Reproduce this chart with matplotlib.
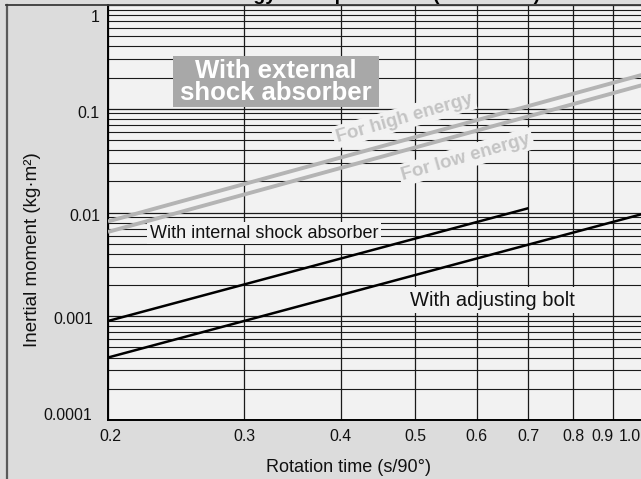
import matplotlib
matplotlib.use("Agg")
import matplotlib.pyplot as plt
from matplotlib.ticker import FixedLocator, LogLocator, NullFormatter, NullLocator
from matplotlib.transforms import ScaledTranslation, blended_transform_factory
from matplotlib.lines import Line2D
from matplotlib.patches import Rectangle

plt.rcParams['font.family'] = ['Liberation Sans', 'DejaVu Sans']

# Allowable inertial moment (kg·m²) at the ends of each straight (log-log) line
internal_t = [0.2, 0.7]
internal_I = [0.0009, 0.011]
bolt_t = [0.2, 1.0]
bolt_I = [0.0004, 0.01]
high_t = [0.2, 1.0]
high_I = [0.0082, 0.22]
low_t = [0.2, 1.0]
low_I = [0.0065, 0.175]

x_ticks = [0.2, 0.3, 0.4, 0.5, 0.6, 0.7, 0.8, 0.9, 1.0]
x_tick_labels = ['0.2', '0.3', '0.4', '0.5', '0.6', '0.7', '0.8', '0.9', '1.0']
y_ticks = [1e-4, 1e-3, 1e-2, 1e-1, 1.0]
y_tick_labels = ['0.0001', '0.001', '0.01', '0.1', '1']

W, H = 641, 479
FIG_BG = '#dcdcdc'
AX_BG = '#f2f2f2'
GRID = '#1a1a1a'

fig = plt.figure(figsize=(W / 100, H / 100), dpi=100, facecolor=FIG_BG)
ax = fig.add_axes([108 / W, 1 - 420 / H, 540 / W, 415 / H], facecolor=AX_BG)


def fpx(x, y):
    """Figure pixel position (from top-left) to figure fraction."""
    return x / W, 1 - y / H


ax.set_xscale('log')
ax.set_yscale('log')
ax.set_xlim(0.2, 1.0)
ax.set_ylim(1e-4, 1.0)

ax.xaxis.set_major_locator(FixedLocator(x_ticks))
ax.xaxis.set_minor_locator(NullLocator())
ax.yaxis.set_major_locator(FixedLocator(y_ticks))
ax.yaxis.set_minor_locator(LogLocator(base=10, subs=range(2, 10)))
ax.xaxis.set_major_formatter(NullFormatter())
ax.yaxis.set_major_formatter(NullFormatter())
ax.yaxis.set_minor_formatter(NullFormatter())
ax.tick_params(which='both', length=0)

ax.set_axisbelow(True)
ax.grid(True, which='major', color=GRID, lw=0.9)
ax.grid(True, which='minor', axis='y', color=GRID, lw=0.8)

for side in ('top', 'right'):
    ax.spines[side].set_visible(False)
for side in ('left', 'bottom'):
    ax.spines[side].set_color('black')
    ax.spines[side].set_linewidth(1.4)

# tick labels, nudged where they crowd or sit at the frame edges
xt = blended_transform_factory(ax.transData, ax.transAxes)
x_shift = {'0.2': 2, '0.9': -10, '1.0': -18}
for v, lab in zip(x_ticks, x_tick_labels):
    off = ScaledTranslation(x_shift.get(lab, 0) / 100, -21 / 100, fig.dpi_scale_trans)
    ax.text(v, 0, lab, transform=xt + off, ha='center', va='baseline',
            fontsize=11.4, color='#111111', clip_on=False)

yt = blended_transform_factory(ax.transAxes, ax.transData)
y_shift = {'1': (-8, -17.5), '0.1': (-8, -9), '0.01': (-8, -8.5),
           '0.001': (-15, -8), '0.0001': (-16, 0)}
for v, lab in zip(y_ticks, y_tick_labels):
    dx, dy = y_shift[lab]
    off = ScaledTranslation(dx / 100, dy / 100, fig.dpi_scale_trans)
    ax.text(0, v, lab, transform=yt + off, ha='right', va='baseline',
            fontsize=11.4, color='#111111', clip_on=False)

fig.text(*fpx(348, 472), 'Rotation time (s/90°)', ha='center', va='baseline',
         fontsize=13, color='#111111')
fig.text(*fpx(33, 250), 'Inertial moment (kg·m²)', ha='center', va='center',
         rotation=90, fontsize=13.5, color='#111111')
fig.text(210 / W, 1.0, 'Energy absorption limit (Reference)', ha='left',
         va='baseline', fontsize=14, fontweight='bold', color='black')

# frame of the panel
fig.add_artist(Line2D([6.7 / W, 6.7 / W], [0, 1 - 5 / H], color='#5a5a5a', lw=1.6))
fig.add_artist(Line2D([6 / W, 1], [1 - 5 / H, 1 - 5 / H], color='#3a3a3a', lw=1.3))

# characteristic lines
ax.plot(high_t, high_I, color='#b4b4b4', lw=2.8, solid_capstyle='butt', zorder=4)
ax.plot(low_t, low_I, color='#b4b4b4', lw=2.8, solid_capstyle='butt', zorder=4)
ax.plot(internal_t, internal_I, color='black', lw=1.8, solid_capstyle='butt', zorder=5)
ax.plot(bolt_t, bolt_I, color='black', lw=1.8, solid_capstyle='butt', zorder=5)

# annotations
ax.add_patch(Rectangle(fpx(173, 107), 206 / W, 51 / H, transform=fig.transFigure,
                       fc='#a8a8a8', ec='none', zorder=3))
ax.text(*fpx(276, 82), 'With external\nshock absorber', transform=fig.transFigure,
        ha='center', va='center', multialignment='center', fontsize=18.5,
        fontweight='bold', color='white', linespacing=0.92, zorder=3.5)

txt_box = dict(boxstyle='square,pad=0.15', fc=AX_BG, ec='none')
ax.text(*fpx(404, 118), 'For high energy', transform=fig.transFigure,
        ha='center', va='center', rotation=16, rotation_mode='anchor',
        fontsize=13.5, fontweight='bold', color='#c4c4c4', bbox=txt_box, zorder=3)
ax.text(*fpx(466, 157), 'For low energy', transform=fig.transFigure,
        ha='center', va='center', rotation=16, rotation_mode='anchor',
        fontsize=13.5, fontweight='bold', color='#c4c4c4', bbox=txt_box, zorder=3)
ax.text(*fpx(150, 233), 'With internal shock absorber', transform=fig.transFigure,
        ha='left', va='center', fontsize=13, color='#111111', bbox=txt_box, zorder=3)
ax.text(*fpx(492, 300), 'With adjusting bolt', transform=fig.transFigure,
        ha='center', va='center', fontsize=14.5, color='#111111', bbox=txt_box, zorder=3)

fig.savefig('out.png', dpi=100, facecolor=FIG_BG)
